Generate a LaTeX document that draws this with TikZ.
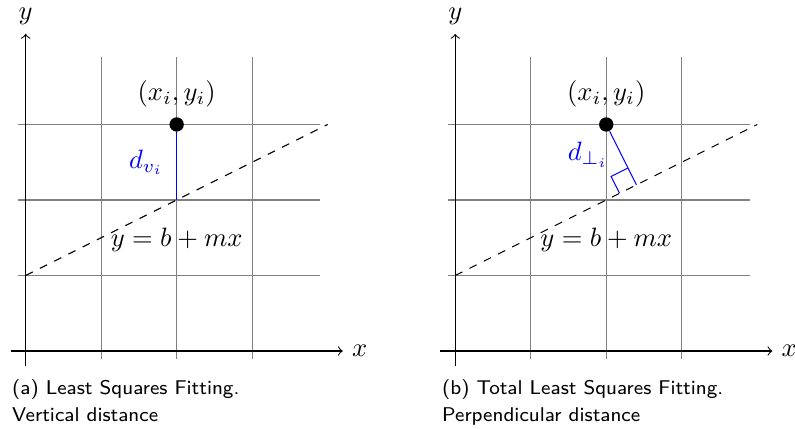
\documentclass[tikz,border=0pt]{standalone}
\usetikzlibrary{calc}
\begin{document}
\begin{tikzpicture}[
  gridline/.style={draw=gray, line width=0.4pt},
  axis/.style={->, draw=black, line width=0.4pt},
  fitline/.style={dashed, draw=black, line width=0.4pt},
  dist/.style={draw=blue, text=blue, line width=0.4pt},
  dot/.style={circle, fill=black, inner sep=0pt, minimum size=0.19cm},
  captext/.style={font=\sffamily\fontsize{7.5}{10}\selectfont, anchor=base west, inner sep=0pt},
]
\useasboundingbox (-0.340,-1.033) rectangle (10.19,4.649);

% ---------- (a) vertical distance ----------
\begin{scope}
  \draw[gridline] (-0.1,-0.1) grid (3.9,3.9);
  \coordinate (aXs) at (-0.2,0);
  \coordinate (aXe) at (4.2,0);
  \coordinate (aYs) at (0,-0.2);
  \coordinate (aYe) at (0,4.2);
  \draw[axis] (aXs) -- (aXe);
  \draw[axis] (aYs) -- (aYe);
  \node[right] (aXl) at (aXe) {$x$};
  \node[above] (aYl) at (aYe) {$y$};
  \coordinate (aA) at (0,1);
  \coordinate (aB) at (4,3);
  \draw[fitline] (aA) -- (aB);
  \node[dot] (aP) at (2,3) {};
  \coordinate (aF) at (2,2);
  \draw[dist] (aP) -- (aF);
  \path (aP.center) -- (aF) node[midway, left=1.5pt, text=blue] (aDl) {$d_{v_i}$};
  \node[anchor=south] (aPl) at (aP.north) {$(x_i,y_i)$};
  \node (aEq) at (2,1.47) {$y=b+mx$};
  \node[captext] (aC1) at (-0.185,-0.57) {(a) Least Squares Fitting.};
  \node[captext] (aC2) at (-0.185,-0.936) {Vertical distance};
\end{scope}

% ---------- (b) perpendicular distance ----------
\begin{scope}[xshift=5.69cm]
  \draw[gridline] (-0.1,-0.1) grid (3.9,3.9);
  \coordinate (bXs) at (-0.2,0);
  \coordinate (bXe) at (4.2,0);
  \coordinate (bYs) at (0,-0.2);
  \coordinate (bYe) at (0,4.2);
  \draw[axis] (bXs) -- (bXe);
  \draw[axis] (bYs) -- (bYe);
  \node[right] (bXl) at (bXe) {$x$};
  \node[above] (bYl) at (bYe) {$y$};
  \coordinate (bA) at (0,1);
  \coordinate (bB) at (4,3);
  \draw[fitline] (bA) -- (bB);
  \node[dot] (bP) at (2,3) {};
  \coordinate (bF) at ($(bA)!(bP.center)!(bB)$);
  \draw[dist] (bP) -- (bF);
  \coordinate (bS1) at ($(bF)!0.25cm!(bP.center)$);
  \coordinate (bS3) at ($(bF)!0.25cm!(bA)$);
  \coordinate (bS2) at ($(bS1)+(bS3)-(bF)$);
  \draw[dist] (bS1) -- (bS2) -- (bS3);
  \path (bP.center) -- (bF) node[midway, left=1.5pt, text=blue] (bDl) {$d_{\perp_i}$};
  \node[anchor=south] (bPl) at (bP.north) {$(x_i,y_i)$};
  \node (bEq) at (2,1.47) {$y=b+mx$};
  \node[captext] (bC1) at (-0.18,-0.57) {(b) Total Least Squares Fitting.};
  \node[captext] (bC2) at (-0.18,-0.936) {Perpendicular distance};
\end{scope}
\end{tikzpicture}
\end{document}
